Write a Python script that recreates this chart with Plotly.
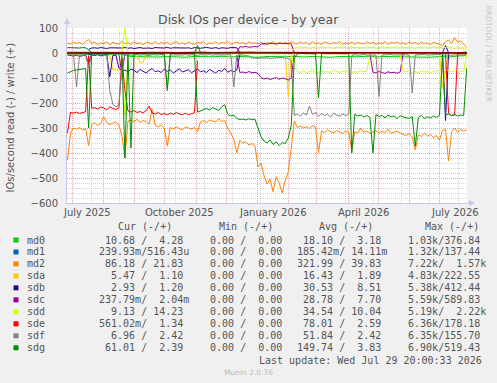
import plotly.graph_objects as go
import pandas as pd

# ---------------- time grid (3-day samples) ----------------
START = pd.Timestamp("2025-06-26 12:00")
N = 133
dates = [START + pd.Timedelta(days=3 * i) for i in range(N)]
X_RANGE = ["2025-06-26 01:00", "2026-07-27 19:00"]

devices = ["md0", "md1", "md2", "sda", "sdb", "sdc", "sdd", "sde", "sdf", "sdg"]
colors = {"md0": "#00CC00", "md1": "#0066B3", "md2": "#FF8000", "sda": "#FFCC00",
          "sdb": "#330099", "sdc": "#990099", "sdd": "#CCFF00", "sde": "#FF0000",
          "sdf": "#808080", "sdg": "#008F00"}

# ---------------- data (IOs/second; reads negative, writes positive) ----------------
# 9-day samples (every 3rd grid point)
md0_read_9d = [-5, -6, -4, -5, -6, -5, -4, -14, -15,
               -13, -16, -14, -15, -17, -14, -16, -15, -13,
               -16, -14, -15, -17, -14, -16, -15, -13, -16,
               -14, -15, -17, -14, -16, -15, -13, -16, -14,
               -15, -16, -14, -15, -17, -14, -16, -12, -10.68]
md0_write_9d = [1, 2, 1, 1, 2, 1, 1, 2, 1,
                1, 2, 1, 1, 1, 2, 1, 1, 2,
                1, 1, 2, 1, 1, 1, 2, 1, 1,
                2, 1, 1, 2, 1, 1, 1, 2, 1,
                1, 2, 1, 1, 2, 1, 1, 1, 4.28]
md1_read_9d = [-0.2, -0.1, -0.3, -0.2, -0.2, -0.1, -0.3, -0.2, -0.1,
               -0.2, -0.3, -0.1, -0.2, -0.2, -0.1, -0.3, -0.2, -0.1,
               -0.2, -0.1, -0.3, -0.2, -0.2, -0.1, -0.3, -0.2, -0.1,
               -0.2, -0.3, -0.1, -0.2, -0.2, -0.1, -0.3, -0.2, -0.1,
               -0.2, -0.1, -0.3, -0.2, -0.2, -0.1, -0.3, -0.2, -0.24]
md1_write_9d = [0.02, 0.01, 0.02, 0.01, 0.01, 0.02, 0.01, 0.02, 0.01,
                0.01, 0.02, 0.01, 0.02, 0.01, 0.01, 0.02, 0.01, 0.02,
                0.01, 0.02, 0.01, 0.01, 0.02, 0.01, 0.02, 0.01, 0.01,
                0.02, 0.01, 0.02, 0.01, 0.01, 0.02, 0.01, 0.02, 0.01,
                0.01, 0.02, 0.01, 0.02, 0.01, 0.01, 0.02, 0.01, 0.0005]
sda_write_9d = [1, 2, 1, 1, 1, 2, 1, 1, 2,
                1, 1, 2, 1, 1, 1, 2, 1, 1,
                2, 1, 1, 1, 2, 1, 1, 2, 1,
                1, 1, 2, 1, 1, 2, 1, 1, 1,
                2, 1, 1, 2, 1, 1, 1, 2, 1.10]
sde_write_9d = [3, 2, 4, 3, 3, 2, 4, 3, 2,
                3, 4, 3, 2, 3, 3, 4, 2, 3,
                3, 2, 4, 3, 3, 2, 3, 4, 3,
                2, 3, 3, 4, 2, 3, 3, 2, 4,
                3, 3, 2, 3, 4, 3, 2, 3, 1.34]

# 3-day samples, full year
md2_write = [40, 36, 44, 38, 42, 35, 46, 54, 38, 44,
             33, 41, 37, 45, 32, 43, 39, 35, 47, 38,
             42, 34, 45, 37, 41, 33, 44, 39, 36, 46,
             35, 42, 38, 44, 33, 40, 45, 36, 41, 34,
             44, 38, 35, 43, 39, 46, 34, 41, 37, 45,
             36, 42, 39, 47, 35, 40, 44, 37, 42, 34,
             45, 38, 41, 36, 44, 33, 42, 39, 46, 35,
             40, 37, 43, 34, 45, 39, 36, 44, 38, 42,
             33, 45, 37, 41, 35, 44, 39, 36, 43, 38,
             46, 34, 41, 37, 44, 35, 42, 39, 36, 45,
             38, 43, 34, 41, 37, 46, 35, 42, 39, 44,
             36, 41, 34, 45, 38, 42, 35, 44, 37, 40,
             33, 43, 38, 36, 30, 45, 52, 38, 62, 44,
             48, 36, 21.83]
md2_read = [-428, -320, -300, -305, -298, -308, -302, -370, -285, -280,
            -290, -282, -255, -278, -286, -280, -275, -288, -330, -420,
            -272, -268, -275, -265, -278, -270, -274, -285, -225, -290,
            -295, -288, -300, -372, -298, -305, -295, -302, -308, -296,
            -300, -304, -298, -315, -275, -270, -278, -268, -272, -276,
            -262, -274, -270, -300, -320, -345, -400, -350, -360, -355,
            -368, -362, -372, -456, -440, -490, -525, -505, -555, -495,
            -520, -560, -510, -475, -380, -272, -298, -292, -300, -295,
            -302, -290, -296, -400, -312, -318, -308, -315, -320, -310,
            -316, -322, -312, -318, -390, -315, -320, -300, -318, -312,
            -322, -316, -310, -320, -314, -318, -305, -322, -316, -312,
            -320, -325, -330, -322, -336, -388, -328, -334, -320, -332,
            -326, -338, -330, -348, -310, -305, -432, -315, -300, -318,
            -306, -312, -308]
sda_read = [-6, -8, -7, -9, -8, -10, -9, -30, -10, -9,
            -8, -10, -9, -11, -10, -68, -66, -70, -12, -10,
            -9, -11, -10, -12, -38, -36, -4, -3, -2, -3,
            -3, -2, -4, -3, -2, -3, -4, -2, -3, -3,
            -2, -4, -3, -2, -3, -4, -3, -2, -3, -4,
            -3, -2, -4, -3, -2, -3, -4, -3, -2, -3,
            -4, -3, -2, -3, -4, -2, -3, -3, -4, -2,
            -3, -4, -3, -175, -3, -2, -4, -3, -2, -3,
            -4, -3, -2, -3, -4, -2, -3, -3, -4, -2,
            -3, -4, -2, -3, -3, -4, -2, -3, -4, -3,
            -2, -3, -4, -3, -2, -3, -4, -2, -3, -3,
            -4, -2, -3, -3, -4, -2, -3, -4, -3, -2,
            -3, -4, -2, -3, -136, -60, -3, -4, -2, -3,
            -4, -5, -5.47]
sdf_read = [-8, -6, -7, -135, -8, -9, -7, -60, -8, -6,
            -7, -9, -8, -8, -150, -205, -215, -208, -60, -8,
            -7, -9, -8, -6, -9, -7, -8, -10, -7, -9,
            -8, -6, -9, -140, -7, -8, -9, -7, -8, -6,
            -9, -7, -8, -10, -7, -9, -8, -6, -9, -7,
            -8, -9, -7, -8, -6, -136, -9, -7, -8, -10,
            -12, -18, -20, -22, -19, -21, -18, -22, -20, -19,
            -21, -18, -20, -22, -30, -250, -244, -252, -240, -248,
            -212, -246, -238, -254, -242, -250, -245, -256, -240, -248,
            -252, -244, -250, -246, -10, -7, -9, -8, -6, -9,
            -7, -8, -9, -175, -8, -7, -9, -6, -8, -7,
            -9, -8, -7, -10, -160, -8, -7, -9, -6, -8,
            -7, -9, -8, -6, -9, -7, -8, -10, -7, -9,
            -8, -7, -6.96]
sdg_read = [-80, -74, -70, -68, -66, -64, -62, -300, -3, -2,
            -4, -3, -2, -3, -4, -2, -3, -2, -3, -420,
            -5, -380, -4, -3, -2, -4, -3, -5, -2, -3,
            -4, -2, -3, -150, -3, -2, -4, -3, -2, -3,
            -4, -2, -3, -236, -232, -226, -222, -228, -218, -224,
            -230, -215, -207, -245, -252, -248, -262, -266, -264, -268,
            -263, -267, -265, -300, -335, -352, -360, -348, -366, -355,
            -370, -358, -362, -340, -290, -20, -3, -2, -4, -3,
            -2, -3, -4, -180, -3, -2, -4, -3, -2, -3,
            -4, -2, -3, -2, -400, -245, -252, -248, -256, -250,
            -258, -400, -246, -254, -250, -260, -248, -255, -252, -262,
            -250, -256, -258, -262, -254, -373, -258, -250, -262, -255,
            -260, -252, -258, -250, -5, -248, -244, -250, -246, -252,
            -248, -250, -61.01]

# segments (start index on the 3-day grid, values)
sde_read_a_start, sde_read_a = 0, [-320, -238, -240, -236, -242, -238, -235, -10, -222, -218,
                                   -225, -216, -220, -228, -215, -222, -226, -219, -20, -150,
                                   -232, -236, -230, -238, -234, -240, -231, -212, -240, -244,
                                   -238, -246, -242, -248, -240, -245, -238, -244, -247, -241,
                                   -246, -243, -239, -30]
sde_read_b_start, sde_read_b = 125, [-5, -240, -250, -248, -3, -1, -1, -0.56]
sdb_read_start, sdb_read = 7, [-5, -8, -10, -6, -12, -8, -6, -95, -10, -8,
                               -60, -72, -68, -76, -64, -70, -78, -66, -74, -80,
                               -69, -62, -75, -71, -78, -65, -73, -68, -80, -70,
                               -63, -76, -72, -67, -79, -70, -64, -75, -71, -78,
                               -66, -73, -80, -69, -74, -62, -77, -70, -75, -68,
                               -5]
sdb_write_start, sdb_write = 7, [14, 20, 21, 19, 22, 20, 18, 21, 20, 19,
                                 21, 20, 22, 19, 21, 18, 20, 22, 19, 21,
                                 20, 18, 22, 21, 19, 20, 23, 19, 21, 20,
                                 22, 19, 20, 21, 18, 22, 20, 19, 21, 23,
                                 20, 19, 22, 18, 21, 20, 19, 22, 20, 21,
                                 2]
sdb_spike_start, sdb_spike_read, sdb_spike_write = 124, [-2, -270, -2.93], [1, 30, 1.20]
sdc_read_a_start, sdc_read_a = 0, [-8, -10, -12, -9, -14, -11, -8, -40, -3]
sdc_read_b_start, sdc_read_b = 17, [-3, -85, -3]
sdc_read_c_start, sdc_read_c = 56, [-10, -78, -76, -80, -74, -79, -77, -82, -98, -104,
                                    -100, -106, -102, -98, -105, -100, -103, -108, -99, -5]
sdc_read_d_start, sdc_read_d = 100, [-5, -76, -80, -74, -78, -82, -75, -79, -77, -81, -76, -0.24]
sdc_write_start, sdc_write = 56, [2, 25, 24, 26, 23, 25, 26, 24, 36, 38,
                                  35, 39, 37, 36, 40, 38, 37, 39, 36, 2]
sdd_read_a_start, sdd_read_a = 17, [-3, -10, -250, -8, -3]
sdd_read_b_start, sdd_read_b = 74, [-5, -60, -72, -78, -70, -80, -74, -68, -76, -79,
                                    -71, -77, -73, -80, -69, -75, -78, -72, -76, -70,
                                    -79, -74, -77, -71, -75, -73, -8]
sdd_read_c_start, sdd_read_c = 110, [-8, -72, -76, -70, -78, -74, -80, -71, -77, -73,
                                     -79, -75, -70, -78, -140, -65, -72, -76, -70, -78,
                                     -74, -72, -9.13]
sdd_write_a_start, sdd_write_a = 17, [1, 2, 100, 2, 1]
sdd_write_b_start, sdd_write_b = 74, [2, 20, 22, 24, 21, 23, 19, 22, 25, 20,
                                      23, 21, 24, 22, 19, 23, 21, 25, 20, 22,
                                      24, 21, 23, 20, 22, 25, 21, 23, 19, 22,
                                      24, 20, 23, 21, 22, 25, 20, 23, 21, 24,
                                      22, 19, 23, 21, 25, 20, 22, 24, 21, 23,
                                      20, 22, 25, 21, 18, 23, 20, 22, 14.23]
sdg_write_a_start, sdg_write_a = 0, [22, 21, 23, 22, 20, 22, 21, 12, 2]
sdg_write_b_start, sdg_write_b = 42, [2, 30, 2]

# legend statistics (read / write)
cur_read = [10.68, 0.23993, 86.18, 5.47, 2.93, 0.23779, 9.13, 0.56102, 6.96, 61.01]
cur_write = [4.28, 516.43e-6, 21.83, 1.10, 1.20, 2.04e-3, 14.23, 1.34, 2.42, 2.39]
min_read = [0, 0, 0, 0, 0, 0, 0, 0, 0, 0]
min_write = [0, 0, 0, 0, 0, 0, 0, 0, 0, 0]
avg_read = [18.10, 0.18542, 321.99, 16.43, 30.53, 28.78, 34.54, 78.01, 51.84, 149.74]
avg_write = [3.18, 0.01411, 39.83, 1.89, 8.51, 7.70, 10.04, 2.59, 2.42, 3.83]
max_read = [1030, 1320, 7220, 4830, 5380, 5590, 5190, 6360, 6350, 6900]
max_write = [376.84, 137.44, 1570, 222.55, 412.44, 589.83, 2220, 178.18, 155.70, 519.43]

x_tick_dates = ["2025-07-16", "2025-10-16", "2026-01-16", "2026-04-16", "2026-07-16"]
x_tick_text = ["July 2025", "October 2025", "January 2026", "April 2026", "July 2026"]


# ---------------- helpers ----------------
def seg(start, vals, step=1):
    return [dates[start + k * step] for k in range(len(vals))], vals


series = {
    "md0": [seg(0, md0_read_9d, 3), seg(0, md0_write_9d, 3)],
    "md1": [seg(0, md1_read_9d, 3), seg(0, md1_write_9d, 3)],
    "md2": [seg(0, md2_read), seg(0, md2_write)],
    "sda": [seg(0, sda_read), seg(0, sda_write_9d, 3)],
    "sdb": [seg(sdb_read_start, sdb_read), seg(sdb_write_start, sdb_write),
            seg(sdb_spike_start, sdb_spike_read), seg(sdb_spike_start, sdb_spike_write)],
    "sdc": [seg(sdc_read_a_start, sdc_read_a), seg(sdc_read_b_start, sdc_read_b),
            seg(sdc_read_c_start, sdc_read_c), seg(sdc_read_d_start, sdc_read_d),
            seg(sdc_write_start, sdc_write)],
    "sdd": [seg(sdd_read_a_start, sdd_read_a), seg(sdd_read_b_start, sdd_read_b),
            seg(sdd_read_c_start, sdd_read_c), seg(sdd_write_a_start, sdd_write_a),
            seg(sdd_write_b_start, sdd_write_b)],
    "sde": [seg(sde_read_a_start, sde_read_a), seg(sde_read_b_start, sde_read_b),
            seg(0, sde_write_9d, 3)],
    "sdf": [seg(0, sdf_read)],
    "sdg": [seg(0, sdg_read), seg(sdg_write_a_start, sdg_write_a),
            seg(sdg_write_b_start, sdg_write_b)],
}

fig = go.Figure()
for dev in devices:
    for xs, ys in series[dev]:
        fig.add_trace(go.Scatter(x=xs, y=ys, mode="lines",
                                 line=dict(color=colors[dev], width=1),
                                 hoverinfo="skip", showlegend=False))

# layout geometry (pixels)
W, H = 497, 383
PL, PR, PT, PB = 67, 467, 28, 203


def px_x(px):
    return (px - PL) / (PR - PL)


def px_y(py):
    return (PB - py) / (PB - PT)


TXT = "#555555"
MAJOR = "#e8a4a4"
MINOR = "#d4d4d4"
AXIS = "#c8c8ee"

fig.update_layout(
    width=W, height=H,
    margin=dict(l=PL, r=W - PR, t=PT, b=H - PB, pad=0),
    paper_bgcolor="#f0f0f0", plot_bgcolor="#ffffff",
    showlegend=False, hovermode=False,
    font=dict(family="DejaVu Sans", size=10, color=TXT),
    xaxis=dict(type="date", range=X_RANGE, showticklabels=False, ticks="",
               showgrid=True, gridcolor=MAJOR, griddash="1px,1px", gridwidth=1,
               dtick="M1", tick0="2025-07-01",
               minor=dict(dtick=28 * 86400000, tick0="2025-07-20", showgrid=True,
                          gridcolor=MINOR, griddash="1px,1px", gridwidth=1),
               showline=True, linecolor=AXIS, linewidth=1, zeroline=False),
    yaxis=dict(range=[-600, 100], dtick=100, tick0=0, ticks="",
               ticklabelstandoff=6,
               tickfont=dict(family="DejaVu Sans", size=10, color=TXT),
               showgrid=True, gridcolor=MAJOR, griddash="1px,1px", gridwidth=1,
               minor=dict(dtick=20, showgrid=True, gridcolor=MINOR,
                          griddash="1px,1px", gridwidth=1),
               showline=True, linecolor=AXIS, linewidth=1, zeroline=False),
)

# zero rule
fig.add_shape(type="line", xref="paper", yref="y", x0=0, x1=1, y0=0, y1=0,
              line=dict(color="#000000", width=1), layer="above")

# axis arrows
fig.add_shape(type="line", xref="paper", yref="paper", x0=0, x1=0, y0=1, y1=px_y(22),
              line=dict(color=AXIS, width=1))
fig.add_shape(type="path", xref="paper", yref="paper",
              path=f"M {px_x(64)},{px_y(24)} L {px_x(70)},{px_y(24)} L {px_x(67)},{px_y(18)} Z",
              fillcolor=AXIS, line=dict(width=0))
fig.add_shape(type="line", xref="paper", yref="paper", x0=1, x1=px_x(470), y0=0, y1=0,
              line=dict(color=AXIS, width=1))
fig.add_shape(type="path", xref="paper", yref="paper",
              path=f"M {px_x(469)},{px_y(200)} L {px_x(469)},{px_y(206)} L {px_x(475)},{px_y(203)} Z",
              fillcolor=AXIS, line=dict(width=0))

ann = []
# x tick labels
for d, t in zip(x_tick_dates, x_tick_text):
    ann.append(dict(x=d, xref="x", y=px_y(212.7), yref="paper", text=t, showarrow=False,
                    xanchor="center", yanchor="middle",
                    font=dict(family="DejaVu Sans", size=10, color=TXT)))
# title
ann.append(dict(x=px_x(248.5), y=px_y(19.5), xref="paper", yref="paper",
                text="Disk IOs per device - by year", showarrow=False,
                xanchor="center", yanchor="middle",
                font=dict(family="DejaVu Sans", size=12.5, color=TXT)))
# y title
ann.append(dict(x=px_x(10), y=px_y(117.5), xref="paper", yref="paper",
                text="IOs/second read (-) / write (+)", showarrow=False, textangle=-90,
                xanchor="center", yanchor="middle",
                font=dict(family="DejaVu Sans", size=10, color=TXT)))
# watermark
ann.append(dict(x=px_x(488), y=px_y(53.5), xref="paper", yref="paper",
                text="RRDTOOL / TOBI OETIKER", showarrow=False, textangle=90,
                xanchor="center", yanchor="middle",
                font=dict(family="DejaVu Sans", size=7.5, color="#c4c4c4")))


def si(v):
    if v == 0:
        return f"{0:6.2f} "
    for p, s in [(1e3, "k"), (1, " "), (1e-3, "m"), (1e-6, "u")]:
        if abs(v) >= p:
            return f"{v / p:6.2f}{s}"
    return f"{v:6.2f} "


def mono(s):
    return s.replace(" ", "\u00a0")


MONO = dict(family="DejaVu Sans Mono", size=10, color=TXT)


def text_at(px, py, s, anchor="left"):
    ann.append(dict(x=px_x(px), y=px_y(py), xref="paper", yref="paper", text=mono(s),
                    showarrow=False, xanchor=anchor, yanchor="middle", font=MONO,
                    borderpad=0))


HEAD_Y = 226
ROW0, ROWSTEP = 240, 11.97
col_x = [97.7, 197.3, 296, 395.3]
head_x = [116.7, 218.3, 317.5, 423.5]
for hx, h in zip(head_x, ["Cur (-/+)", "Min (-/+)", "Avg (-/+)", "Max (-/+)"]):
    text_at(hx, HEAD_Y, h)

for k, dev in enumerate(devices):
    y = ROW0 + ROWSTEP * k
    fig.add_shape(type="rect", xref="paper", yref="paper",
                  x0=px_x(13.5), x1=px_x(18.5), y0=px_y(y - 2.5), y1=px_y(y + 2.5),
                  fillcolor=colors[dev], line=dict(width=0))
    text_at(26, y, dev)
    cols = [si(cur_read[k]) + "/" + si(cur_write[k]),
            si(min_read[k]) + "/" + si(min_write[k]),
            si(avg_read[k]) + "/" + si(avg_write[k]),
            si(max_read[k]) + "/" + si(max_write[k])]
    for cx, s in zip(col_x, cols):
        text_at(cx, y, s)

text_at(482.5, 360, "Last update: Wed Jul 29 20:00:33 2026", anchor="right")
ann.append(dict(x=px_x(248), y=px_y(372.3), xref="paper", yref="paper", text="Munin 2.0.76",
                showarrow=False, xanchor="center", yanchor="middle",
                font=dict(family="DejaVu Sans", size=7.5, color="#bbbbbb")))

fig.update_layout(annotations=ann)
fig.write_html("out.html")
